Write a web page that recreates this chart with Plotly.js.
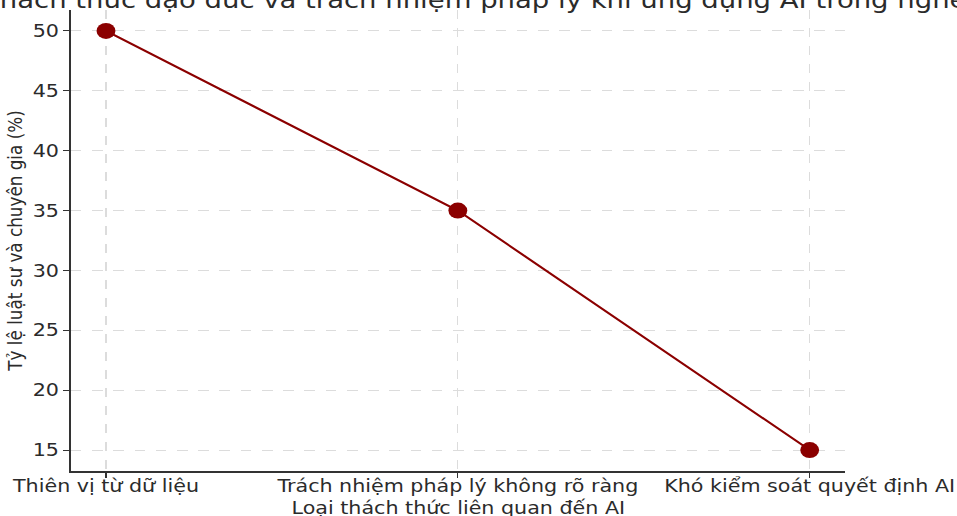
<!DOCTYPE html>
<html>
<head>
<meta charset="utf-8">
<script src="https://cdn.plot.ly/plotly-3.0.1.min.js"></script>
<style>
html,body{margin:0;padding:0;background:#fff;overflow:hidden;width:957px;height:516px;}
#chart{width:811px;height:516px;transform:scaleX(1.18);transform-origin:0 0;}
</style>
</head>
<body>
<div id="chart"></div>
<script>
const categories = ["Thiên vị từ dữ liệu", "Trách nhiệm pháp lý không rõ ràng", "Khó kiểm soát quyết định AI"];
const values = [50, 35, 15];
const yTicks = [15, 20, 25, 30, 35, 40, 45, 50];
const titleText = "Các thách thức đạo đức và trách nhiệm pháp lý khi ứng dụng AI trong nghề luật";
const xTitle = "Loại thách thức liên quan đến AI";
const yTitle = "Tỷ lệ luật sư và chuyên gia (%)";

const font = "DejaVu Sans, sans-serif";
const ink = "#2b2b2b";
const trace = {
  x: categories, y: values, type: "scatter", mode: "lines+markers",
  line: {color: "#8B0000", width: 2},
  marker: {color: "#8B0000", size: 16},
  cliponaxis: false
};
const layout = {
  width: 811, height: 516,
  margin: {l: 60, r: 95, t: 10, b: 45},
  paper_bgcolor: "#fff", plot_bgcolor: "#fff",
  showlegend: false,
  font: {family: font, color: ink, size: 17},
  title: {text: titleText, font: {family: font, size: 23.3, color: ink}, x: 0.5, xref: "container", xanchor: "center", y: 1, yref: "container", yanchor: "middle"},
  xaxis: {
    type: "category", range: [-0.1, 2.1],
    showgrid: true, gridcolor: "#dcdcdc", griddash: "dash", gridwidth: 1,
    showline: true, linecolor: "#333", linewidth: 1.5, mirror: false,
    ticks: "outside", ticklen: 5, tickcolor: "#333",
    ticklabelstandoff: -6,
    tickfont: {family: font, size: 17.5, color: ink},
    zeroline: false
  },
  yaxis: {
    range: [13.25, 51.75], tickvals: yTicks, ticktext: yTicks.map(String),
    showgrid: true, gridcolor: "#dcdcdc", griddash: "dash", gridwidth: 1,
    showline: true, linecolor: "#333", linewidth: 1.5,
    ticks: "outside", ticklen: 5, tickcolor: "#333",
    tickfont: {family: font, size: 17.5, color: ink},
    zeroline: false,
    title: {text: yTitle, font: {family: font, size: 16.8, color: ink}, standoff: 4}
  },
  annotations: [{
    text: xTitle, xref: "paper", yref: "paper", x: 0.5, y: 0,
    xanchor: "center", yanchor: "middle", yshift: -37, showarrow: false,
    font: {family: font, size: 17.5, color: ink}
  }]
};
Plotly.newPlot("chart", [trace], layout, {displayModeBar: false, staticPlot: true});
</script>
</body>
</html>
